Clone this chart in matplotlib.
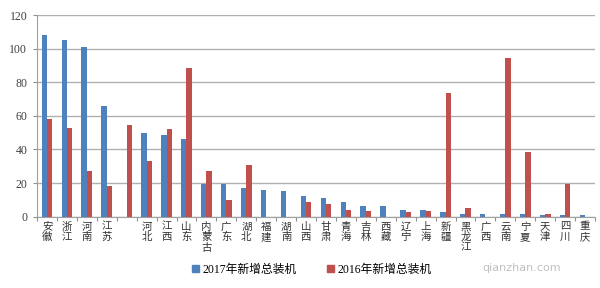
import matplotlib
matplotlib.use("Agg")
import matplotlib.pyplot as plt
import numpy as np
from matplotlib.patches import Patch

plt.rcParams['font.family'] = ['Liberation Serif', 'Noto Sans CJK SC', 'DejaVu Sans']

categories = ["安徽", "浙江", "河南", "江苏", "", "河北", "江西", "山东", "内蒙古", "广东",
              "湖北", "福建", "湖南", "山西", "甘肃", "青海", "吉林", "西藏", "辽宁", "上海",
              "新疆", "黑龙江", "广西", "云南", "宁夏", "天津", "四川", "重庆"]
values_2017 = [108, 105, 101, 66, 0, 50, 48.5, 46.3, 19.3, 19.2,
               17, 16, 15.4, 12.3, 11, 8.5, 6.2, 6.2, 4, 4,
               2.6, 1.4, 1.4, 1.4, 1.4, 0.8, 0.8, 0.8]
values_2016 = [58, 53, 27, 18, 54.3, 33.3, 52, 88.5, 27.2, 10,
               31, 0, 0, 8.5, 7.4, 4.2, 3.2, 0, 2.6, 3.2,
               73.3, 5.2, 0, 94.5, 38.3, 1.4, 19.6, 0]
series_names = ["2017年新增总装机", "2016年新增总装机"]
yticks = [0, 20, 40, 60, 80, 100, 120]

c17 = "#4F81BD"
c16 = "#C0504D"

fig = plt.figure(figsize=(6, 2.88), dpi=100)
ax = fig.add_axes([37/600, 1 - 216.7/288, 558/600, 201.7/288])

x = np.arange(len(categories))
w = 0.27
ax.bar(x - w/2, values_2017, width=w, color=c17, zorder=3)
ax.bar(x + w/2, values_2016, width=w, color=c16, zorder=3)

ax.set_xlim(-0.5, len(categories) - 0.5)
ax.set_ylim(0, 120)
ax.set_yticks(yticks)
ax.set_yticklabels([str(t) for t in yticks], fontsize=8.5, color="#404040")
ax.yaxis.grid(True, color="#B0B0B0", linewidth=1.0, zorder=0)
ax.tick_params(axis='y', length=3, color="#909090", pad=4)
for s in ["top", "right"]:
    ax.spines[s].set_visible(False)
ax.spines["left"].set_color("#A0A0A0")
ax.spines["bottom"].set_color("#A0A0A0")

# category boundary ticks on x-axis
ax.set_xticks(np.arange(len(categories) + 1) - 0.5)
ax.set_xticklabels([])
ax.tick_params(axis='x', length=3, color="#909090")

# stacked vertical category labels
for i, c in enumerate(categories):
    if c:
        ax.text(i, -3.0, "\n".join(c), ha="center", va="top", fontsize=7.5,
                family=["Noto Sans CJK SC"], color="#303030", linespacing=1.05,
                clip_on=False)

handles = [Patch(color=c17), Patch(color=c16)]
fig.legend(handles, series_names, loc="center", bbox_to_anchor=(0.52, 0.063),
           ncol=2, frameon=False, fontsize=8.5, handlelength=0.6, handleheight=0.6,
           handletextpad=0.3, columnspacing=2.6)

# watermark
fig.text(0.87, 0.068, "qianzhan.com", fontsize=8, color="#B0B0B0", alpha=0.8,
         family=["DejaVu Sans"], ha="center", va="center")

fig.savefig("out.png", dpi=100)
